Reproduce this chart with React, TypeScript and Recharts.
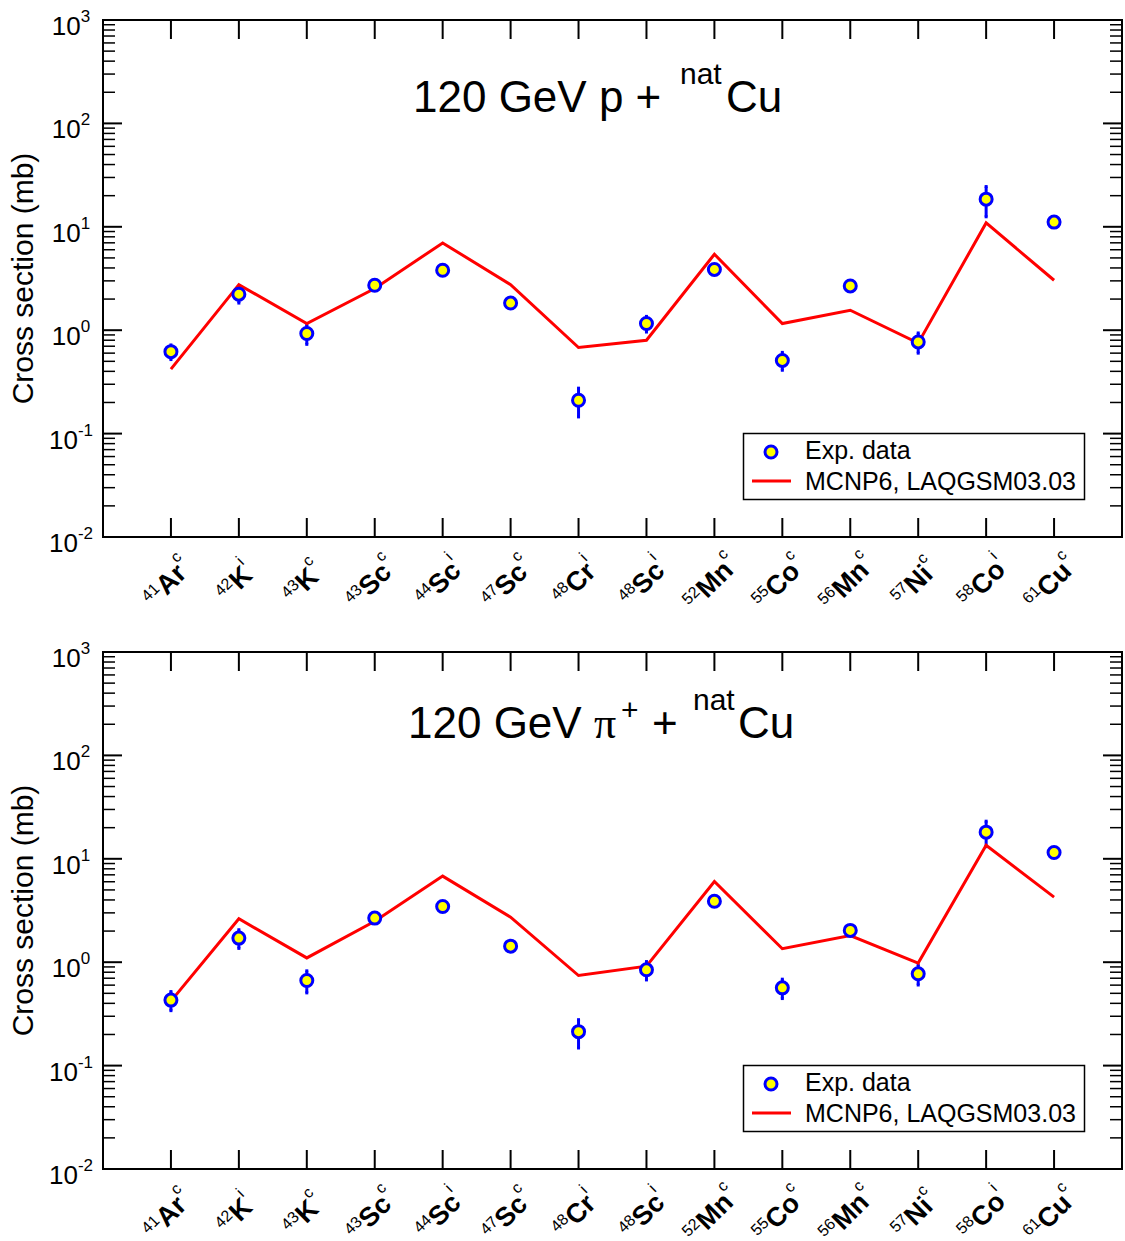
import React from 'react';
import { ComposedChart, Line, Scatter, XAxis, YAxis, ErrorBar, ReferenceArea } from 'recharts';

// isotope labels along the x axis
const massNumbers = ['41', '42', '43', '43', '44', '47', '48', '48', '52', '55', '56', '57', '58', '61'];
const elements = ['Ar', 'K', 'K', 'Sc', 'Sc', 'Sc', 'Cr', 'Sc', 'Mn', 'Co', 'Mn', 'Ni', 'Co', 'Cu'];
const prodTypes = ['c', 'i', 'c', 'c', 'i', 'c', 'i', 'i', 'c', 'c', 'c', 'c', 'i', 'c'];
const xTicks = [1, 2, 3, 4, 5, 6, 7, 8, 9, 10, 11, 12, 13, 14];

// 120 GeV p + natCu
const protonExp = [0.62, 2.23, 0.93, 2.72, 3.8, 1.83, 0.21, 1.16, 3.87, 0.51, 2.68, 0.77, 18.5, 11.1];
const protonErr = [0.1, 0.4, 0.2, 0.2, 0.25, 0.1, 0.065, 0.2, 0.3, 0.1, 0.2, 0.17, 6, 0.8];
const protonModel = [0.42, 2.76, 1.16, 2.53, 6.98, 2.76, 0.68, 0.8, 5.43, 1.16, 1.56, 0.75, 10.9, 3.04];

// 120 GeV pi+ + natCu
const pionExp = [0.43, 1.71, 0.665, 2.67, 3.46, 1.43, 0.213, 0.844, 3.89, 0.565, 2.03, 0.772, 18.1, 11.5];
const pionErr = [0.09, 0.35, 0.16, 0.2, 0.25, 0.1, 0.065, 0.17, 0.3, 0.12, 0.15, 0.17, 5, 0.8];
const pionModel = [0.42, 2.63, 1.1, 2.49, 6.8, 2.73, 0.743, 0.915, 6.04, 1.35, 1.81, 0.98, 13.5, 4.26];

const FONT = '"Liberation Sans", Arial, sans-serif';
const WIDTH = 1125;
const PLOT_LEFT = 103;
const PLOT_W = 1019;
const PLOT_TOP = 20;
const PLOT_H = 517;

const majorTicks = [0.01, 0.1, 1, 10, 100, 1000];
const yTicks: number[] = [];
majorTicks.forEach((m, i) => {
  yTicks.push(m);
  if (i < majorTicks.length - 1) {
    for (let k = 2; k <= 9; k++) yTicks.push(+(m * k).toPrecision(3));
  }
});

const buildRows = (exp: number[], err: number[], model: number[]) =>
  exp.map((v, i) => ({ x: i + 1, exp: v, err: err[i], model: model[i] }));

const isMajor = (v: number) => Math.abs(Math.log10(v) - Math.round(Math.log10(v))) < 1e-6;

const YTick = (props: any) => {
  const { x, y, payload } = props;
  const v = payload.value;
  const major = isMajor(v);
  const len = major ? 19 : 12;
  return (
    <g>
      <line x1={x} y1={y} x2={x + len} y2={y} stroke="#000" strokeWidth={major ? 2 : 1.5} />
      <line x1={x + PLOT_W} y1={y} x2={x + PLOT_W - len} y2={y} stroke="#000" strokeWidth={major ? 2 : 1.5} />
      {major && (
        <text x={x - 32} y={y + 15} textAnchor="middle" fontFamily={FONT} fontSize={26} fill="#000">
          10
          <tspan dy={-13} fontSize={17}>{Math.round(Math.log10(v))}</tspan>
        </text>
      )}
    </g>
  );
};

const XTick = (props: any) => {
  const { x, y, payload } = props;
  const i = payload.value - 1;
  return (
    <g>
      <line x1={x} y1={y} x2={x} y2={y - 19} stroke="#000" strokeWidth={2} />
      <line x1={x} y1={y - PLOT_H} x2={x} y2={y - PLOT_H + 19} stroke="#000" strokeWidth={2} />
      <text
        transform={`translate(${x + 3},${y + 52}) rotate(-45)`}
        textAnchor="middle"
        fontFamily={FONT}
        fill="#000"
      >
        <tspan fontSize={16} dy={-9}>{massNumbers[i]}</tspan>
        <tspan fontSize={27} fontWeight="bold" dy={9}>{elements[i]}</tspan>
        <tspan fontSize={16} dy={-16}>{prodTypes[i]}</tspan>
      </text>
    </g>
  );
};

const ExpDot = (props: any) => (
  <circle cx={props.cx} cy={props.cy} r={6} fill="#ffff00" stroke="#0000ff" strokeWidth={3} />
);

interface PanelProps {
  rows: { x: number; exp: number; err: number; model: number }[];
  height: number;
  title: React.ReactNode;
}

const Panel: React.FC<PanelProps> = ({ rows, height, title }) => (
  <div style={{ position: 'relative', width: WIDTH, height }}>
    <ComposedChart
      width={WIDTH}
      height={height}
      data={rows}
      margin={{ top: PLOT_TOP, right: WIDTH - PLOT_LEFT - PLOT_W, bottom: 0, left: 0 }}
    >
      <XAxis
        type="number"
        dataKey="x"
        domain={[0, 15]}
        ticks={xTicks}
        interval={0}
        height={height - PLOT_TOP - PLOT_H}
        axisLine={false}
        tickLine={false}
        tickSize={0}
        tickMargin={0}
        tick={(p: any) => <XTick {...p} />}
      />
      <YAxis
        type="number"
        scale="log"
        domain={[0.01, 1000]}
        allowDataOverflow
        ticks={yTicks}
        interval={0}
        width={PLOT_LEFT}
        axisLine={false}
        tickLine={false}
        tickSize={0}
        tickMargin={0}
        tick={(p: any) => <YTick {...p} />}
      />
      <ReferenceArea x1={0} x2={15} y1={0.01} y2={1000} fill="none" stroke="#000" strokeWidth={2} />
      <Scatter dataKey="exp" shape={ExpDot} isAnimationActive={false}>
        <ErrorBar dataKey="err" direction="y" width={1.5} strokeWidth={3} stroke="#0000ff" />
      </Scatter>
      <Line
        type="linear"
        dataKey="model"
        stroke="#ff0000"
        strokeWidth={3}
        dot={false}
        activeDot={false}
        isAnimationActive={false}
      />
    </ComposedChart>
    <svg
      width={WIDTH}
      height={height}
      style={{ position: 'absolute', left: 0, top: 0, pointerEvents: 'none' }}
    >
      {title}
      <text
        transform={`translate(33,${PLOT_TOP + PLOT_H / 2}) rotate(-90)`}
        textAnchor="middle"
        fontFamily={FONT}
        fontSize={30}
        fill="#000"
      >
        Cross section (mb)
      </text>
      <rect x={743.5} y={433.5} width={341} height={66} fill="#fff" stroke="#000" strokeWidth={1.5} />
      <circle cx={771} cy={452} r={6} fill="#ffff00" stroke="#0000ff" strokeWidth={3} />
      <text x={805} y={459} fontFamily={FONT} fontSize={25} fill="#000">Exp. data</text>
      <line x1={752} y1={481} x2={791} y2={481} stroke="#ff0000" strokeWidth={3} />
      <text x={805} y={490} fontFamily={FONT} fontSize={25} fill="#000">MCNP6, LAQGSM03.03</text>
    </svg>
  </div>
);

const protonTitle = (
  <text y={112} fontFamily={FONT} fontSize={44} fill="#000">
    <tspan x={413}>120 GeV p +</tspan>
    <tspan x={680} dy={-28} fontSize={30}>nat</tspan>
    <tspan x={726} dy={28}>Cu</tspan>
  </text>
);

const pionTitle = (
  <text y={106} fontFamily={FONT} fontSize={44} fill="#000">
    <tspan x={408}>120 GeV</tspan>
    <tspan x={594} fontFamily='"Liberation Serif", "Times New Roman", serif'>π</tspan>
    <tspan x={621} dy={-18} fontSize={30}>+</tspan>
    <tspan x={652} dy={18}>+</tspan>
    <tspan x={693} dy={-28} fontSize={30}>nat</tspan>
    <tspan x={738} dy={28}>Cu</tspan>
  </text>
);

export default function App() {
  return (
    <div style={{ width: WIDTH, height: 1241, overflow: 'hidden', background: '#fff' }}>
      <style>{'body{margin:0;overflow:hidden;}'}</style>
      <Panel rows={buildRows(protonExp, protonErr, protonModel)} height={632} title={protonTitle} />
      <Panel rows={buildRows(pionExp, pionErr, pionModel)} height={609} title={pionTitle} />
    </div>
  );
}
